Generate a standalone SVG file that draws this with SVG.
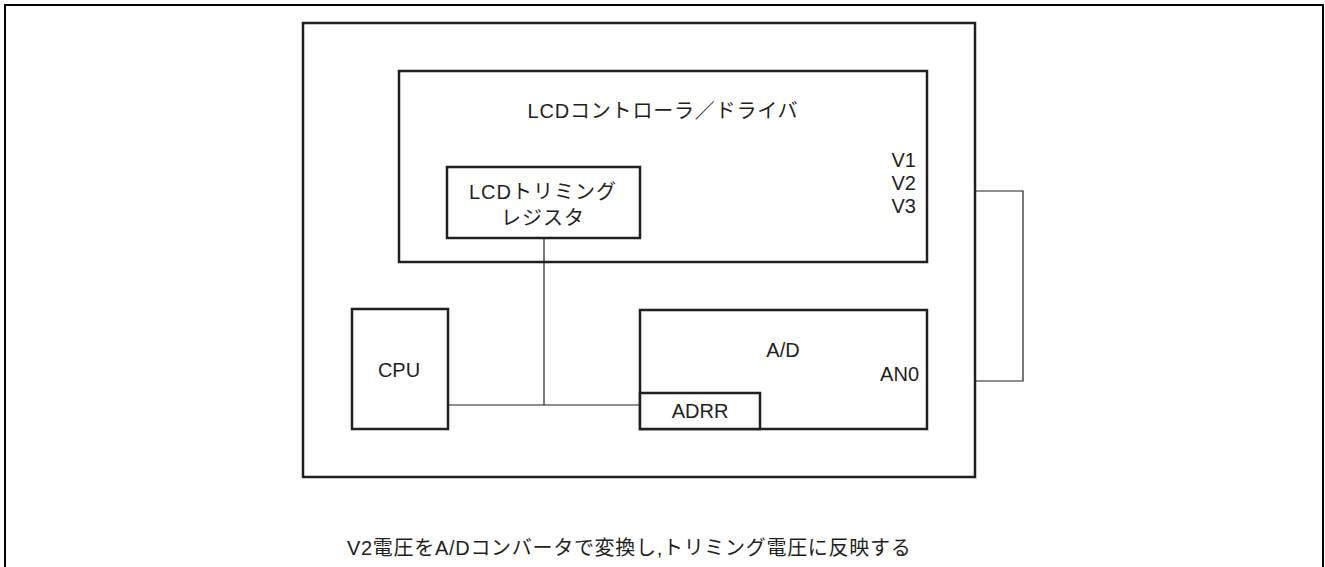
<svg xmlns="http://www.w3.org/2000/svg" width="1325" height="567" viewBox="0 0 1325 567">
<style>
.box{fill:#fff;stroke:#231f20;stroke-width:2.5}
.frame{fill:none;stroke:#000;stroke-width:2}
.wire{fill:none;stroke:#231f20;stroke-width:1.2}
text{font-family:"Liberation Sans","Noto Sans CJK JP",sans-serif;font-size:20px;fill:#231f20}
.c{text-anchor:middle}
.r{text-anchor:end}
</style>
<rect width="1325" height="567" fill="#fff"/>
<path class="frame" d="M5,568 V5 H1323 V568"/>
<g id="chip"><rect class="box" x="303" y="23" width="672" height="454"/></g>
<g id="lcd">
<rect class="box" x="399" y="71" width="528" height="191"/>
<text class="c" x="663" y="118" letter-spacing="0.8">LCDコントローラ／ドライバ</text>
<text class="r" x="916" y="167">V1</text>
<text class="r" x="916" y="190">V2</text>
<text class="r" x="916" y="213">V3</text>
</g>
<g id="trim">
<rect class="box" x="447" y="167" width="193" height="71"/>
<text class="c" x="543" y="199" letter-spacing="1">LCDトリミング</text>
<text class="c" x="543" y="225" letter-spacing="1">レジスタ</text>
</g>
<g id="cpu">
<rect class="box" x="352" y="309" width="96" height="120"/>
<text class="c" x="399" y="377">CPU</text>
</g>
<g id="ad">
<rect class="box" x="640" y="310" width="287" height="119"/>
<text class="c" x="783" y="357">A/D</text>
<text class="r" x="919" y="381">AN0</text>
</g>
<g id="adrr">
<rect class="box" x="640" y="393" width="120" height="36"/>
<text class="c" x="700" y="418">ADRR</text>
</g>
<g id="connectors">
<path class="wire" d="M544,238 V405"/>
<path class="wire" d="M448,405 H640"/>
<path class="wire" d="M975,191 H1023 V381 H975"/>
</g>
<text x="347" y="555" letter-spacing="0.7">V2電圧をA/Dコンバータで変換し,トリミング電圧に反映する</text>
</svg>
